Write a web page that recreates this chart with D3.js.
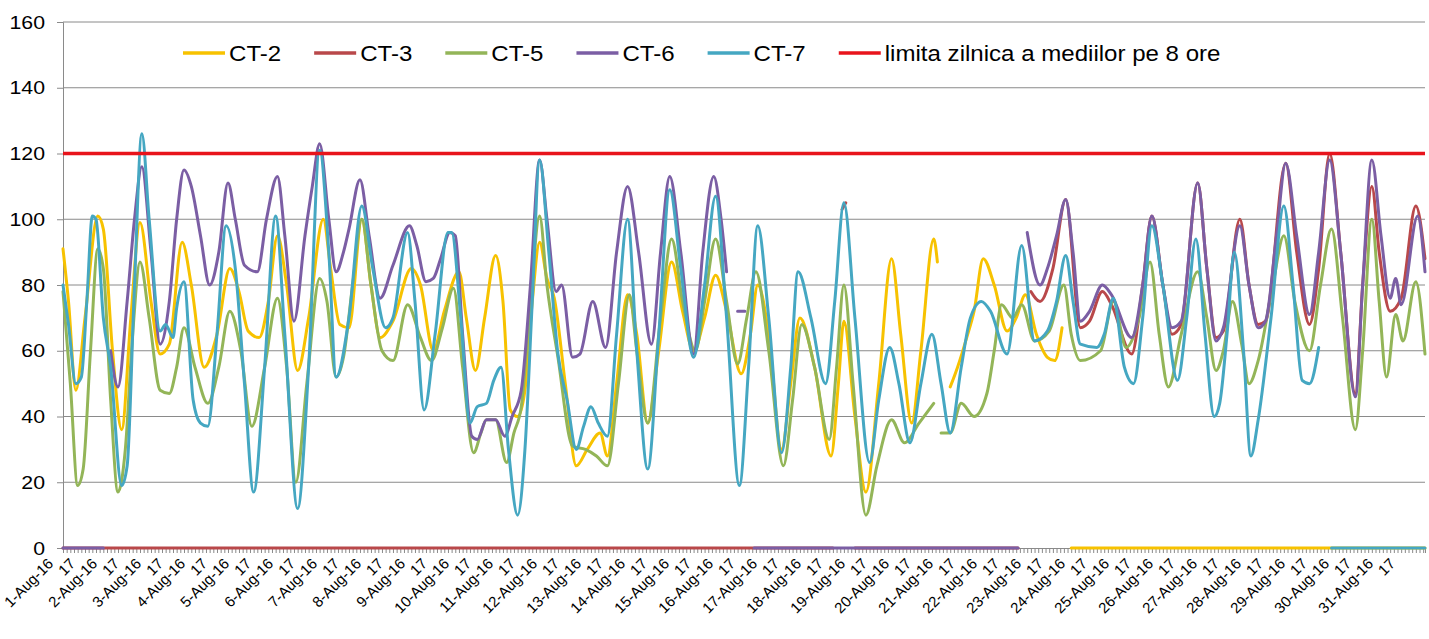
<!DOCTYPE html>
<html>
<head>
<meta charset="utf-8">
<script src="https://cdn.jsdelivr.net/npm/d3@7"></script>
<style>
  body { margin: 0; background: #fff; }
  text { font-family: "Liberation Sans", Arial, sans-serif; fill: #000; }
</style>
</head>
<body>
<svg id="chart" width="1429" height="639"></svg>
<script>
// hourly categories for August 2016 (hour index 0..743), values read at turning points
const days = d3.range(1, 32)
const dayLabels = days.map(d => d + '-Aug-16')
const hourLabel = '17'
const yTicks = [0, 20, 40, 60, 80, 100, 120, 140, 160]
const limitValue = 120

// [hour, value]; null = gap in the data, 0 = station reported zero
const ct2 = [[0,91],[3,75],[7,48],[12,70],[19,101],[22,97],[27,60],[32,36],[37,70],[42,99],[48,75],[53,59],[58,62],[65,93],[70,80],[77,55],[84,65],[91,85],[96,78],[101,66],[107,64],[112,75],[117,95],[122,80],[128,54],[134,70],[142,100],[146,85],[151,68],[156,67],[163,100],[168,80],[173,64],[180,69],[190,85],[195,80],[202,60],[208,72],[216,84],[220,70],[225,54],[230,70],[236,89],[240,75],[244,42],[248,40],[252,48],[256,75],[260,93],[264,82],[268,76],[274,50],[280,25],[286,30],[293,35],[297,28],[302,50],[308,77],[313,65],[319,38],[325,60],[332,87],[338,72],[344,60],[350,70],[356,83],[362,72],[370,53],[375,65],[379,80],[385,65],[392,30],[397,50],[402,70],[410,55],[419,28],[423,50],[426,69],[432,40],[438,17],[445,50],[452,88],[457,65],[463,38],[468,60],[475,94],[477,87],[480,null],[484,49],[488,55],[493,64],[497,72],[502,88],[508,80],[515,66],[520,70],[525,77],[531,65],[537,58],[541,57],[545,67],[548,null],[550,0],[743,0]]

const ct3 = [[0,0],[420,0],[421,null],[425,103],[427,105],[428,null],[432,0],[521,0],[524,null],[528,78],[533,75],[540,85],[547,106],[555,67],[560,69],[567,78],[572,74],[583,59],[589,80],[594,101],[600,80],[605,65],[610,68],[619,111],[624,85],[629,64],[633,66],[642,100],[647,80],[652,68],[656,69],[667,117],[673,90],[680,68],[685,85],[691,120],[697,90],[705,47],[709,80],[714,110],[718,90],[724,72],[730,76],[738,104],[743,88]]

const ct5 = [[0,78],[4,50],[8,19],[11,24],[15,60],[19,91],[22,85],[26,45],[30,17],[34,30],[38,65],[42,87],[47,70],[53,48],[58,47],[62,55],[66,67],[72,55],[79,44],[85,55],[91,72],[97,60],[103,37],[110,55],[117,76],[122,55],[127,20],[133,50],[140,82],[144,75],[149,52],[153,58],[158,80],[163,100],[168,80],[174,60],[180,57],[188,74],[195,64],[201,57],[207,67],[213,79],[218,55],[224,29],[228,35],[231,39],[236,39],[242,26],[246,35],[250,43],[255,75],[260,101],[264,80],[270,58],[278,31],[285,30],[291,28],[297,25],[303,50],[309,77],[313,60],[319,38],[326,70],[332,94],[338,75],[345,60],[350,75],[356,94],[362,75],[368,56],[373,70],[378,84],[385,60],[393,25],[398,45],[403,68],[410,55],[418,33],[422,55],[426,80],[431,50],[438,10],[444,25],[452,39],[459,32],[467,38],[475,44],[477,null],[479,35],[484,35],[490,44],[497,40],[504,47],[508,60],[512,74],[518,70],[523,74],[530,63],[538,66],[546,80],[550,65],[555,57],[566,60],[573,75],[580,61],[587,70],[593,87],[598,65],[603,49],[610,65],[619,84],[624,70],[629,54],[633,60],[638,75],[643,62],[647,50],[652,57],[660,80],[666,95],[672,75],[680,60],[686,80],[692,97],[698,70],[705,36],[709,60],[714,100],[718,75],[722,52],[727,71],[731,63],[738,81],[743,59]]

const ct6 = [[0,0],[22,0],[24,null],[26,60],[30,49],[35,75],[39,100],[43,116],[48,90],[53,62],[58,75],[62,100],[66,115],[70,110],[75,95],[80,80],[85,90],[90,111],[94,100],[99,86],[106,84],[111,100],[117,113],[121,95],[126,69],[132,95],[136,110],[140,123],[145,100],[149,84],[153,90],[156,97],[162,112],[167,95],[173,76],[180,86],[189,98],[193,92],[198,81],[202,82],[206,88],[211,96],[214,95],[218,65],[223,34],[226,33],[231,39],[236,39],[241,34],[245,40],[250,48],[255,80],[260,118],[264,100],[269,78],[272,80],[278,58],[282,59],[289,75],[296,61],[302,90],[308,110],[314,90],[321,62],[326,90],[331,113],[337,90],[344,59],[349,90],[355,113],[359,100],[362,84],[364,null],[368,72],[372,72],[374,null],[377,0],[521,0],[524,null],[526,96],[533,80],[537,85],[542,95],[547,106],[551,90],[555,69],[560,72],[567,80],[572,77],[583,64],[589,80],[594,101],[600,80],[605,67],[610,69],[619,111],[624,85],[629,63],[633,67],[642,98],[647,80],[652,67],[656,69],[662,95],[667,117],[673,95],[680,71],[685,90],[691,118],[697,90],[705,46],[709,80],[714,118],[719,95],[724,76],[727,82],[730,74],[739,101],[743,84]]

const ct7 = [[0,80],[3,68],[7,50],[10,52],[13,75],[16,101],[18,100],[22,70],[26,55],[32,19],[35,25],[39,80],[43,126],[47,100],[53,66],[56,68],[60,64],[62,73],[66,81],[71,45],[75,38],[79,37],[84,65],[89,98],[94,85],[99,50],[104,17],[110,55],[116,101],[121,65],[128,12],[134,55],[140,121],[145,90],[149,52],[156,70],[163,104],[169,85],[176,67],[180,70],[188,96],[192,75],[197,42],[203,65],[210,96],[212,96],[217,70],[222,38],[226,43],[231,44],[235,51],[239,55],[243,30],[248,10],[252,30],[256,75],[260,118],[265,90],[270,59],[275,45],[280,30],[284,37],[288,43],[292,38],[297,34],[302,65],[308,100],[313,60],[319,24],[325,65],[331,109],[337,85],[344,58],[350,80],[356,107],[362,70],[369,19],[374,55],[379,98],[385,70],[392,29],[397,55],[401,84],[408,70],[416,50],[421,75],[426,105],[432,70],[440,26],[445,45],[451,61],[456,50],[462,32],[468,50],[474,65],[479,50],[484,35],[490,55],[495,70],[501,75],[506,72],[515,59],[523,92],[530,63],[537,66],[542,75],[547,89],[551,75],[555,62],[564,61],[568,65],[573,76],[579,55],[584,50],[589,70],[594,98],[600,80],[608,51],[613,70],[618,94],[623,65],[628,40],[631,44],[635,65],[639,90],[644,60],[648,28],[652,39],[659,70],[666,104],[671,80],[676,51],[680,50],[685,61],[688,null],[692,0],[743,0]]

const seriesNames = ['CT-2', 'CT-3', 'CT-5', 'CT-6', 'CT-7']
const seriesData = [ct2, ct3, ct5, ct6, ct7]
const seriesColors = ['#f7c200', '#b9484a', '#93b558', '#7b5ea4', '#45a7c2']
const limitName = 'limita zilnica a mediilor pe 8 ore'
const limitColor = '#e8141c'

const svg = d3.select('#chart')
const plotLeft = 63, plotRight = 1425, plotTop = 22, plotBottom = 548
const lastHour = days.length * 24 - 1
const stretch = 1.12  // the source picture is a bit wider than tall

const x = d3.scaleLinear().domain([0, lastHour]).range([plotLeft, plotRight])
const y = d3.scaleLinear().domain([0, 160]).range([plotBottom, plotTop])

// horizontal gridlines
svg.append('g')
    .selectAll('line')
    .data(yTicks.filter(v => v > 0))
    .enter()
    .append('line')
    .attr('x1', plotLeft).attr('x2', plotRight)
    .attr('y1', d => y(d)).attr('y2', d => y(d))
    .attr('stroke', '#8a8a8a')
    .attr('stroke-width', 1)

// y axis
const gy = svg.append('g')
    .attr('transform', `translate(${plotLeft},0)`)
    .call(d3.axisLeft(y).tickValues(yTicks).tickSize(6).tickPadding(12))
gy.select('.domain').attr('stroke', '#8a8a8a')
gy.selectAll('.tick line').attr('stroke', '#8a8a8a')
gy.selectAll('.tick text')
    .style('font-size', '19px')
    .attr('fill', '#222')
    .attr('x', 0)
    .attr('transform', `translate(-18,0) scale(${stretch},1)`)

// x axis: small ticks every 2 hours
const gx = svg.append('g')
    .attr('transform', `translate(0,${plotBottom})`)
    .call(d3.axisBottom(x).tickValues(d3.range(0, lastHour + 1, 2)).tickSize(5).tickFormat(''))
gx.select('.domain').attr('stroke', '#8a8a8a')
gx.selectAll('.tick line').attr('stroke', '#8a8a8a')

// x labels: date at midnight, "17" at midday
const labelHours = []
days.forEach((d, i) => { labelHours.push(i * 24); labelHours.push(i * 24 + 12) })
const gl = svg.append('g')
    .attr('transform', `translate(0,${plotBottom})`)
    .call(d3.axisBottom(x).tickValues(labelHours).tickSize(0)
        .tickFormat(h => h % 24 === 0 ? dayLabels[h / 24] : hourLabel))
gl.select('.domain').remove()
gl.selectAll('.tick text')
    .style('font-size', '15px')
    .attr('fill', '#222')
    .attr('text-anchor', 'end')
    .attr('x', 0).attr('y', 0).attr('dy', '0.35em')
    .attr('transform', 'translate(-13,13) rotate(-45)')

// series lines
const line = d3.line()
    .defined(d => d[1] !== null)
    .x(d => x(d[0]))
    .y(d => y(d[1]))
    .curve(d3.curveMonotoneX)

svg.append('g')
    .selectAll('path')
    .data(seriesData)
    .enter()
    .append('path')
    .attr('d', line)
    .attr('fill', 'none')
    .attr('stroke', (d, i) => seriesColors[i])
    .attr('stroke-width', 3)
    .attr('stroke-linejoin', 'round')
    .attr('stroke-linecap', 'round')

// 8h daily limit
svg.append('line')
    .attr('x1', plotLeft).attr('x2', plotRight)
    .attr('y1', y(limitValue)).attr('y2', y(limitValue))
    .attr('stroke', limitColor)
    .attr('stroke-width', 3.5)

// legend
const legendItems = seriesNames.map((n, i) => ({ name: n, color: seriesColors[i] }))
legendItems.push({ name: limitName, color: limitColor })
const legend = svg.append('g').attr('transform', 'translate(183,53)')
let lx = 0
legendItems.forEach(item => {
    const g = legend.append('g').attr('transform', `translate(${lx},0)`)
    g.append('line')
        .attr('x1', 0).attr('x2', 42).attr('y1', 0).attr('y2', 0)
        .attr('stroke', item.color).attr('stroke-width', 3.5)
    const t = g.append('text')
        .attr('x', 0).attr('y', 0).attr('dy', '0.35em')
        .attr('transform', `translate(46,0) scale(${stretch},1)`)
        .style('font-size', '21.5px')
        .text(item.name)
    lx += 46 + t.node().getComputedTextLength() * stretch + 33
})
</script>
</body>
</html>
